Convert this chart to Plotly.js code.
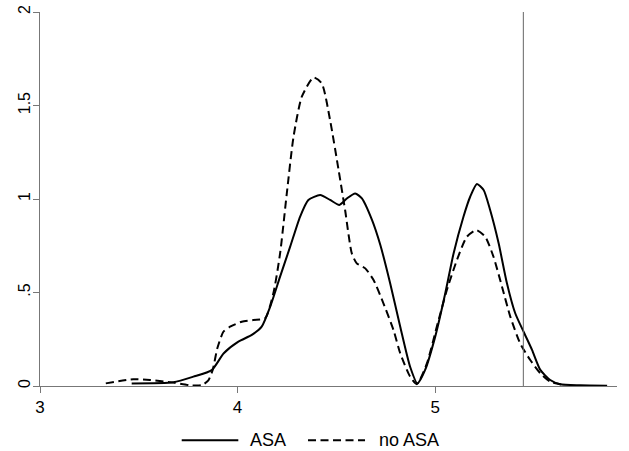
<!DOCTYPE html>
<html>
<head>
<meta charset="utf-8">
<script src="https://cdn.plot.ly/plotly-3.0.1.min.js"></script>
<style>html,body{margin:0;padding:0;background:#fff;}#chart{width:629px;height:451px;}</style>
</head>
<body>
<div id="chart"></div>
<script>
// ASA density (solid)
const asaX = [3.464, 3.675, 3.776, 3.869, 3.93, 4.004, 4.072, 4.122, 4.165, 4.215, 4.266, 4.316, 4.358, 4.418, 4.468, 4.515, 4.553, 4.595, 4.629, 4.68, 4.722, 4.772, 4.823, 4.873, 4.91, 4.949, 5.0, 5.051, 5.093, 5.143, 5.177, 5.211, 5.245, 5.278, 5.321, 5.363, 5.405, 5.451, 5.49, 5.532, 5.582, 5.633, 5.734, 5.87];
const asaY = [0.014, 0.02, 0.05, 0.085, 0.175, 0.237, 0.273, 0.317, 0.424, 0.585, 0.745, 0.905, 0.995, 1.021, 0.995, 0.968, 1.003, 1.030, 1.003, 0.888, 0.755, 0.55, 0.317, 0.103, 0.014, 0.086, 0.264, 0.496, 0.709, 0.905, 1.012, 1.080, 1.048, 0.941, 0.763, 0.549, 0.389, 0.282, 0.193, 0.086, 0.032, 0.009, 0.004, 0.002];
// no ASA density (dashed)
const noAsaX = [3.333, 3.472, 3.557, 3.675, 3.759, 3.819, 3.852, 3.875, 3.897, 3.928, 3.962, 4.021, 4.08, 4.139, 4.181, 4.215, 4.249, 4.283, 4.325, 4.384, 4.426, 4.468, 4.511, 4.544, 4.578, 4.603, 4.646, 4.688, 4.738, 4.789, 4.823, 4.873, 4.907, 4.958, 5.008, 5.059, 5.11, 5.16, 5.208, 5.253, 5.295, 5.338, 5.38, 5.43, 5.481, 5.532, 5.582, 5.65];
const noAsaY = [0.014, 0.036, 0.032, 0.018, 0.004, 0.005, 0.03, 0.09, 0.20, 0.29, 0.317, 0.344, 0.353, 0.362, 0.496, 0.709, 1.030, 1.333, 1.547, 1.650, 1.618, 1.422, 1.155, 0.941, 0.709, 0.656, 0.629, 0.567, 0.442, 0.299, 0.175, 0.05, 0.01, 0.121, 0.317, 0.513, 0.674, 0.798, 0.834, 0.798, 0.691, 0.531, 0.371, 0.228, 0.139, 0.068, 0.023, 0.005];
const seriesNames = ["ASA", "no ASA"];
const refLineX = [5.446];
const xTickVals = [3, 4, 5];
const xTickText = ["3", "4", "5"];
const yTickVals = [0, 0.5, 1, 1.5, 2];
const yTickText = ["0", ".5", "1", "1.5", "2"];

const fam = "Arial, 'Liberation Sans', sans-serif";
const xTickFont = {family: fam, size: 17, color: "#000"};
const yTickFont = {family: fam, size: 16, color: "#000"};
const legFont = {family: fam, size: 18, color: "#000"};
const dashPat = "8px,4.5px";
const traces = [
  {x: asaX, y: asaY, name: seriesNames[0], type: "scatter", mode: "lines", showlegend: false,
   line: {color: "#000", width: 2, shape: "spline", smoothing: 0.6}},
  {x: noAsaX, y: noAsaY, name: seriesNames[1], type: "scatter", mode: "lines", showlegend: false,
   line: {color: "#000", width: 2, dash: dashPat, shape: "spline", smoothing: 0.6}}
];
// legend drawn as shapes + annotations (paper coords)
const legY = -0.145;
const legendItems = [
  {x0: 0.2456, x1: 0.3437, tx: 0.3605, dash: "solid"},
  {x0: 0.4645, x1: 0.5633, tx: 0.5840, dash: dashPat}
];
const shapes = refLineX.map(v => ({type: "line", xref: "x", yref: "y", x0: v, x1: v, y0: 0, y1: 2,
          line: {color: "#666", width: 1}}));
const annotations = [];
legendItems.forEach((it, i) => {
  shapes.push({type: "line", xref: "paper", yref: "paper", x0: it.x0, x1: it.x1, y0: legY, y1: legY,
               line: {color: "#000", width: 2, dash: it.dash}});
  annotations.push({xref: "paper", yref: "paper", x: it.tx, y: legY, xanchor: "left", yanchor: "middle",
               text: seriesNames[i], showarrow: false, font: legFont});
});
const layout = {
  width: 629, height: 451,
  margin: {l: 40, r: 12, t: 12, b: 65, autoexpand: false},
  paper_bgcolor: "#fff", plot_bgcolor: "#fff",
  font: yTickFont,
  showlegend: false,
  xaxis: {range: [3, 5.92], tickvals: xTickVals, ticktext: xTickText,
          showgrid: false, zeroline: false, showline: true, linecolor: "#777", linewidth: 1,
          ticks: "outside", ticklen: 6, tickcolor: "#777", tickfont: xTickFont},
  yaxis: {range: [0, 2], tickvals: yTickVals, ticktext: yTickText, tickangle: -90,
          showgrid: false, zeroline: false, showline: true, linecolor: "#777", linewidth: 1,
          ticks: "outside", ticklen: 6, tickcolor: "#777", tickfont: yTickFont,
          ticklabelstandoff: -3},
  shapes: shapes,
  annotations: annotations
};
Plotly.newPlot("chart", traces, layout, {staticPlot: true, displayModeBar: false});
</script>
</body>
</html>
